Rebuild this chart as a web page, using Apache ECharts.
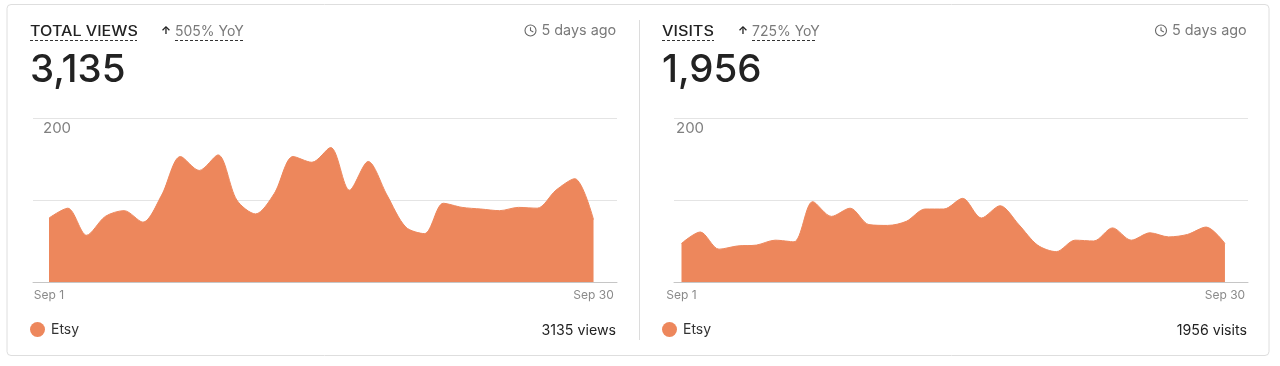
<!DOCTYPE html>
<html><head><meta charset="utf-8">
<style>html,body{margin:0;padding:0;background:#fff}#c{width:1280px;height:366px}</style>
<script src="https://cdn.jsdelivr.net/npm/echarts@6/dist/echarts.min.js"></script>
</head><body><div id="c"></div>
<script>
const viewsValues=[78,90,57,80,87,73,106,153,136,155,100,83,108,153,146,164,112,147,106,67,59,96,91,89,87,91,90,112,126,76];
const visitsValues=[47,61,40,44,45,51,49,98,80,90,70,69,74,89,89,102,78,93,70,45,37,51,50,66,51,60,55,58,67,47];
const xTickIndex=[0,29];
const xTickLabels=['Sep 1','Sep 30'];
const yTicks=[200];
const seriesName='Etsy';
const ORANGE='#ED875C', FONT='Inter', DARK='#222222', GREY='#7a7a7a';

const chart=echarts.init(document.getElementById('c'),null,{renderer:'canvas'});
const pair=a=>a.map((v,i)=>[i,v]);
function axes(idx,xMin,xMax,labelMargin){
  return {
    x:{gridIndex:idx,type:'value',min:xMin,max:xMax,splitLine:{show:false},axisTick:{show:false},
       axisLine:{show:true,onZero:false,lineStyle:{color:'#c6c6c6',width:1}},
       axisLabel:{customValues:xTickIndex,margin:7,color:'#8a8a8a',fontSize:12,fontFamily:FONT,showMinLabel:true,showMaxLabel:true,hideOverlap:false,
         formatter:v=>xTickLabels[xTickIndex.indexOf(v)]||''}},
    y:{gridIndex:idx,type:'value',min:0,max:200,interval:100,axisLine:{show:false},axisTick:{show:false},
       splitLine:{show:true,lineStyle:{color:'#e4e4e4',width:1}},
       axisLabel:{inside:true,customValues:yTicks,margin:labelMargin,verticalAlign:'top',padding:[3,0,0,0],color:'#808080',fontSize:15,fontFamily:FONT}}
  };
}
const a0=axes(0,-0.852,30.25,10), a1=axes(1,-0.40,30.23,2);
function area(idx,vals){
  return {name:seriesName,type:'line',xAxisIndex:idx,yAxisIndex:idx,data:pair(vals),smooth:0.3,showSymbol:false,symbol:'none',
    silent:true,animation:false,lineStyle:{color:ORANGE,width:1},itemStyle:{color:ORANGE},areaStyle:{color:ORANGE,opacity:1}};
}
function txt(x,y,text,size,color,opt,extra){
  return Object.assign({type:'text',x,y,silent:true,style:Object.assign({text,fontSize:size,fill:color,fontFamily:FONT,verticalAlign:'middle'},opt||{})},extra||{});
}
function dash(x1,x2,y){
  return {type:'line',silent:true,shape:{x1,y1:y,x2,y2:y},style:{stroke:'#333',lineWidth:1,lineDash:[3,2]}};
}
function clock(cx,cy){
  return [{type:'circle',silent:true,shape:{cx,cy,r:5.5},style:{fill:'none',stroke:'#666',lineWidth:1.1}},
          {type:'polyline',silent:true,shape:{points:[[cx,cy-3.2],[cx,cy],[cx+2.8,cy+1.6]]},style:{fill:'none',stroke:'#666',lineWidth:1.1}}];
}
function header(o){
  return [
    txt(o.x,31.5,o.title,14,DARK,{fontWeight:500},{scaleX:o.titleScale}),
    dash(o.x,o.titleEnd,40.5),
    txt(o.arrowX,31,'↑',11,DARK,{fontWeight:700}),
    txt(o.yoyX,31.5,o.yoy,14,GREY),
    dash(o.yoyX,o.yoyEnd,40.5),
    ...clock(o.clockX,30.5),
    txt(o.clockX+11,30.5,'5 days ago',14.4,GREY),
    txt(o.x,70.5,o.big,38.5,DARK,{fontWeight:500}),
    txt(o.right,331,o.total,14.2,DARK,{align:'right'})
  ];
}
const legendBase={orient:'horizontal',icon:'circle',itemWidth:15,itemHeight:15,itemGap:0,top:317,data:[seriesName],selectedMode:false,
  textStyle:{color:'#333',fontSize:14,fontFamily:FONT,padding:[3,0,0,1]}};
chart.setOption({
  animation:false,
  backgroundColor:'#ffffff',
  grid:[{left:33,width:584,top:118,height:164},{left:674,width:574,top:118,height:164}],
  xAxis:[a0.x,a1.x],yAxis:[a0.y,a1.y],
  legend:[Object.assign({left:25},legendBase),Object.assign({left:657},legendBase)],
  series:[area(0,viewsValues),area(1,visitsValues)],
  graphic:[
    {type:'rect',silent:true,z:-1,shape:{x:7,y:4.5,width:1262,height:351,r:4},style:{fill:'#fff',stroke:'#dedede',lineWidth:1}},
    {type:'line',silent:true,shape:{x1:639.5,y1:20,x2:639.5,y2:340},style:{stroke:'#dcdcdc',lineWidth:1}},
    ...header({x:30,title:'TOTAL VIEWS',titleScale:1.15,titleEnd:137,arrowX:161,yoyX:175,yoy:'505% YoY',yoyEnd:243,clockX:530.5,big:'3,135',right:616,total:'3135 views'}),
    ...header({x:662,title:'VISITS',titleScale:1.16,titleEnd:714,arrowX:738,yoyX:752,yoy:'725% YoY',yoyEnd:817,clockX:1161,big:'1,956',right:1247,total:'1956 visits'})
  ]
});
</script></body></html>
